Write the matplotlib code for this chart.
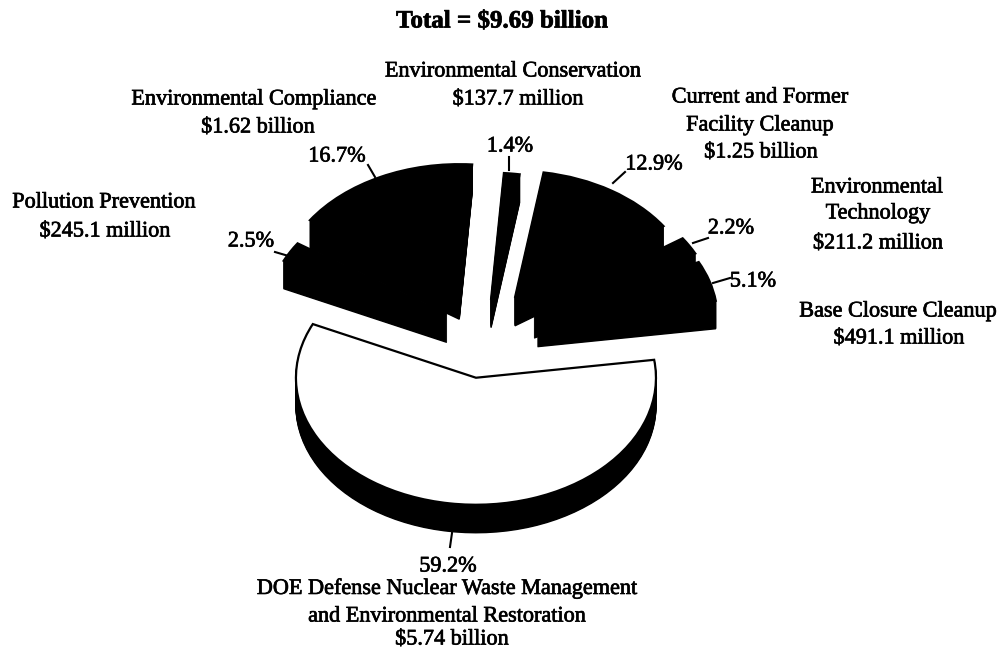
#!/usr/bin/env python3
"""Exploded pseudo-3D pie of the environmental budget, $9.69 billion total."""

import matplotlib
matplotlib.use("Agg")
import matplotlib.pyplot as plt
import matplotlib.patheffects as pe

# ---------------------------------------------------------------------------
# Data (counter-clockwise from the big white slice)
# ---------------------------------------------------------------------------
shares = [59.2, 5.1, 2.2, 12.9, 1.4, 16.7, 2.5]
explode = [0.38, 0.30, 0.31, 0.30, 0.24, 0.34, 0.25]
slice_colors = ["white", "black", "black", "black", "black", "black", "black"]

title = "Total = $9.69 billion"
label_lines = [
    "Environmental Conservation", "$137.7 million",
    "Environmental Compliance", "$1.62 billion",
    "Current and Former", "Facility Cleanup", "$1.25 billion",
    "Environmental", "Technology", "$211.2 million",
    "Pollution Prevention", "$245.1 million",
    "Base Closure Cleanup", "$491.1 million",
    "DOE Defense Nuclear Waste Management", "and Environmental Restoration", "$5.74 billion",
]
label_pos = [
    (513, 72), (518, 100),
    (254, 100), (258, 128),
    (760, 98), (760, 126), (761, 153),
    (877, 188), (878, 214), (878, 244),
    (104, 203), (105, 232),
    (898, 312), (899, 339),
    (447, 589), (447, 617), (452, 640),
]
pct_pos = [(448, 567), (753, 282), (731, 229), (654, 165), (510, 147), (337, 157), (251, 242)]
leaders = [
    ((450, 547), (452, 533)),
    ((730, 278), (713, 283)),
    ((708, 238), (693, 243)),
    ((625, 172), (613, 183)),
    ((509, 157), (509, 170)),
    ((368, 165), (375, 177)),
    ((275, 252), (292, 257)),
]

# ---------------------------------------------------------------------------
# Layout, in pixels of the 1003x651 image
# ---------------------------------------------------------------------------
W, H = 1003, 651
CX, CY = 486, 330     # pie centre before exploding
RX, RY = 180, 127     # ellipse radii of the squashed pie
DEPTH = 28            # extrusion height
START = 155

plt.rcParams["font.family"] = ["Liberation Serif", "DejaVu Serif"]

fig = plt.figure(figsize=(W / 100, H / 100), dpi=100, facecolor="white")

# pie axes: one data unit is RX pixels across and RY pixels up
ax = fig.add_axes([0, 0, 1, 1])
for step in range(DEPTH, -1, -1):
    top = step == 0
    ax.pie(shares, explode=explode, startangle=START, counterclock=True,
           center=(0, -step / RY), radius=1,
           colors=slice_colors if top else ["black"] * len(shares),
           wedgeprops={"edgecolor": "black", "linewidth": 1.6 if top else 1.0})
ax.set_aspect("auto")
ax.set_xlim(-CX / RX, (W - CX) / RX)
ax.set_ylim(-(H - CY) / RY, CY / RY)
ax.axis("off")

# overlay in image pixels for labels and leader lines
ov = fig.add_axes([0, 0, 1, 1], facecolor="none")
ov.set_xlim(0, W)
ov.set_ylim(H, 0)
ov.axis("off")

for (x0, y0), (x1, y1) in leaders:
    ov.plot([x0, x1], [y0, y1], color="black", linewidth=1.5)

# the scan makes everything a bit heavier than plain Times
heavy = [pe.withStroke(linewidth=0.5, foreground="black")]

ov.text(502, 21, title, ha="center", va="center", fontsize=18, fontweight="bold",
        parse_math=False, path_effects=heavy)
for line, (x, y) in zip(label_lines, label_pos):
    ov.text(x, y, line, ha="center", va="center", fontsize=16, parse_math=False, path_effects=heavy)
for share, (x, y) in zip(shares, pct_pos):
    ov.text(x, y, f"{share:.1f}%", ha="center", va="center", fontsize=16, parse_math=False, path_effects=heavy)

fig.savefig("out.png", dpi=100, facecolor="white")
